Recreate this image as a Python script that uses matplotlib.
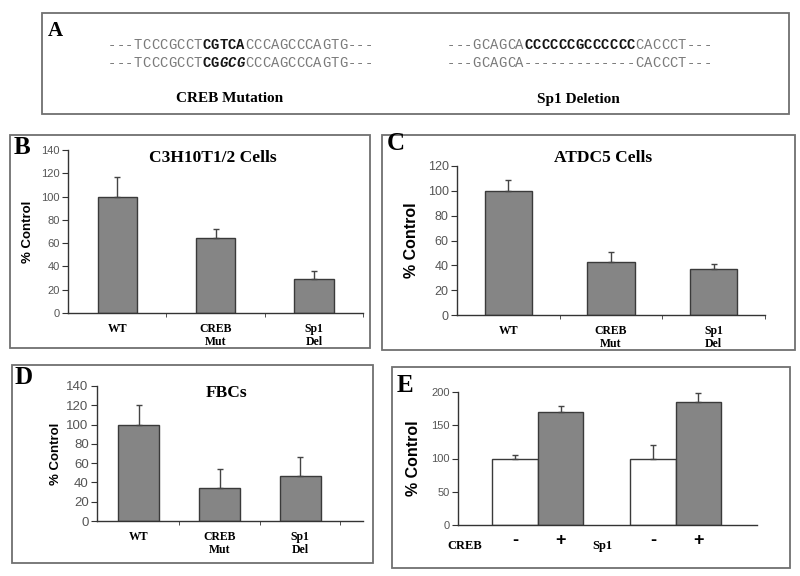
import matplotlib
matplotlib.use("Agg")
import matplotlib.pyplot as plt
from matplotlib.patches import Rectangle

# ---------------- data ----------------
cats = ["WT", "CREB\nMut", "Sp1\nDel"]
b_vals = [100, 64, 29]
b_err = [17, 8, 7]
c_vals = [100, 43, 37]
c_err = [9, 8, 4]
d_vals = [100, 34, 47]
d_err = [20, 20, 19]
e_groups = ["CREB", "Sp1"]
e_minus = [100, 100]
e_minus_err = [5, 21]
e_plus = [170, 185]
e_plus_err = [9, 13]
e_ticklabels = ["-", "+"]

seq_creb = [("---TCCCGCCT", "n"), ("CGTCA", "b"), ("CCCAGCCCAGTG---", "n")]
seq_creb_mut = [("---TCCCGCCT", "n"), ("CG", "b"), ("GCG", "bi"), ("CCCAGCCCAGTG---", "n")]
seq_sp1 = [("---GCAGCA", "n"), ("CCCCCCGCCCCCC", "b"), ("CACCCT---", "n")]
seq_sp1_del = [("---GCAGCA", "n"), ("-------------", "n"), ("CACCCT---", "n")]

W, H = 800, 576
fig = plt.figure(figsize=(8, 5.76), dpi=100)

SERIF = "Liberation Serif"
SANS = "Liberation Sans"
MONO = "Liberation Mono"
BAR = "#858585"
EDGE = "#3a3a3a"
TICKC = "#555555"


def fx(x):
    return x / W


def fy(y):
    return 1 - y / H


def box(x0, y0, x1, y1):
    fig.patches.append(Rectangle((fx(x0), fy(y1)), fx(x1 - x0), (y1 - y0) / H,
                                 transform=fig.transFigure, fill=False,
                                 edgecolor="#707070", linewidth=1.3))


def axes(l, t, r, b):
    return fig.add_axes([fx(l), fy(b), fx(r - l), (b - t) / H])


def style(ax, tsize):
    for s in ["top", "right"]:
        ax.spines[s].set_visible(False)
    for s in ["left", "bottom"]:
        ax.spines[s].set_color("#333333")
        ax.spines[s].set_linewidth(1.0)
    ax.tick_params(axis="y", direction="out", length=4, width=0.8, color="#333333",
                   labelsize=tsize, labelcolor=TICKC, pad=2)
    for lab in ax.get_yticklabels():
        lab.set_fontfamily(SANS)


# ---------------- panel A ----------------
box(42, 13, 789, 114)
fig.text(fx(55), fy(31), "A", fontfamily=SERIF, fontweight="bold", fontsize=15,
         ha="center", va="center")

charw = 8.55
fs_mono = 10.0


def draw_seq(parts, x0, y):
    n = 0
    for s, st in parts:
        kw = dict(fontfamily=MONO, fontsize=fs_mono, va="center", ha="center")
        if st == "n":
            kw.update(color="#7a7a7a")
        elif st == "b":
            kw.update(color="#151515", fontweight="bold")
        else:
            kw.update(color="#151515", fontweight="bold", fontstyle="italic")
        for ch in s:
            fig.text(fx(x0 + (n + 0.5) * charw), fy(y), ch, **kw)
            n += 1


draw_seq(seq_creb, 108, 45)
draw_seq(seq_creb_mut, 108, 63)
draw_seq(seq_sp1, 447, 45)
draw_seq(seq_sp1_del, 447, 63)
fig.text(fx(230), fy(99), "CREB Mutation", fontfamily=SERIF, fontweight="bold",
         fontsize=11, ha="center", va="center")
fig.text(fx(578), fy(99), "Sp1 Deletion", fontfamily=SERIF, fontweight="bold",
         fontsize=11, ha="center", va="center")


def bar_panel(ax, vals, errs, width, ymax, ystep, xlim, tsize, xsize):
    x = list(range(len(vals)))
    ax.bar(x, vals, width=width, color=BAR, edgecolor=EDGE, linewidth=1.0, zorder=2)
    ax.errorbar(x, vals, yerr=[[0] * len(vals), errs], fmt="none", ecolor="#444444",
                elinewidth=1.0, capsize=2.5, capthick=1.0, zorder=3)
    ax.set_ylim(0, ymax)
    ax.set_yticks(range(0, ymax + 1, ystep))
    ax.set_xlim(*xlim)
    ax.set_xticks(x)
    ax.set_xticklabels(cats, fontfamily=SERIF, fontweight="bold", fontsize=xsize,
                       linespacing=1.15)
    ax.set_xticks([0.5, 1.5, 2.5], minor=True)
    ax.tick_params(axis="x", which="major", length=0, pad=7)
    ax.tick_params(axis="x", which="minor", length=3, direction="out", color="#333333")
    style(ax, tsize)


# ---------------- panel B ----------------
box(10, 135, 370, 348)
axB = axes(68, 150, 363, 313)
bar_panel(axB, b_vals, b_err, 0.4, 140, 20, (-0.5, 2.5), 8, 8.5)
axB.set_ylabel("% Control", fontfamily=SANS, fontweight="bold", fontsize=9.5, labelpad=5)
fig.text(fx(213), fy(158), "C3H10T1/2 Cells", fontfamily=SERIF, fontweight="bold",
         fontsize=12.5, ha="center", va="center")
fig.text(fx(22), fy(148), "B", fontfamily=SERIF, fontweight="bold", fontsize=18,
         ha="center", va="center")

# ---------------- panel C ----------------
box(382, 135, 795, 350)
axC = axes(457, 166, 765, 315)
bar_panel(axC, c_vals, c_err, 0.46, 120, 20, (-0.5, 2.5), 9, 8.5)
axC.set_ylabel("% Control", fontfamily=SANS, fontweight="bold", fontsize=11.5, labelpad=6)
fig.text(fx(603), fy(158), "ATDC5 Cells", fontfamily=SERIF, fontweight="bold",
         fontsize=12.5, ha="center", va="center")
fig.text(fx(396), fy(144), "C", fontfamily=SERIF, fontweight="bold", fontsize=18,
         ha="center", va="center")

# ---------------- panel D ----------------
box(12, 365, 373, 563)
axD = axes(97, 386, 363, 521)
bar_panel(axD, d_vals, d_err, 0.51, 140, 20, (-0.52, 2.78), 9.5, 8.5)
axD.set_ylabel("% Control", fontfamily=SANS, fontweight="bold", fontsize=9.5, labelpad=3)
fig.text(fx(227), fy(393), "FBCs", fontfamily=SERIF, fontweight="bold",
         fontsize=12.5, ha="center", va="center")
fig.text(fx(24), fy(377), "D", fontfamily=SERIF, fontweight="bold", fontsize=18,
         ha="center", va="center")

# ---------------- panel E ----------------
box(392, 367, 790, 568)
axE = axes(458, 392, 757, 525)
g = list(range(len(e_groups)))
bw = 0.33
xm = [i - bw / 2 for i in g]
xp = [i + bw / 2 for i in g]
axE.bar(xm, e_minus, width=bw, color="white", edgecolor=EDGE, linewidth=1.0, zorder=2)
axE.bar(xp, e_plus, width=bw, color=BAR, edgecolor=EDGE, linewidth=1.0, zorder=2)
axE.errorbar(xm, e_minus, yerr=[[0] * len(g), e_minus_err], fmt="none", ecolor="#444444",
             elinewidth=1.0, capsize=2.5, capthick=1.0, zorder=3)
axE.errorbar(xp, e_plus, yerr=[[0] * len(g), e_plus_err], fmt="none", ecolor="#444444",
             elinewidth=1.0, capsize=2.5, capthick=1.0, zorder=3)
axE.set_ylim(0, 200)
axE.set_yticks(range(0, 201, 50))
axE.set_xlim(-0.58, 1.59)
axE.set_xticks(xm + xp)
axE.set_xticklabels(e_ticklabels[:1] * len(g) + e_ticklabels[1:] * len(g),
                    fontfamily=SANS, fontweight="bold", fontsize=13)
axE.tick_params(axis="x", length=0, pad=5)
style(axE, 8)
for i, name in enumerate(e_groups):
    axE.text(i - 0.53, -0.16, name, transform=axE.get_xaxis_transform(),
             fontfamily=SERIF, fontweight="bold", fontsize=9, ha="center", va="center")
axE.set_ylabel("% Control", fontfamily=SANS, fontweight="bold", fontsize=11.5, labelpad=7)
fig.text(fx(405), fy(385), "E", fontfamily=SERIF, fontweight="bold", fontsize=18,
         ha="center", va="center")

fig.savefig("out.png", dpi=100, facecolor="white")
